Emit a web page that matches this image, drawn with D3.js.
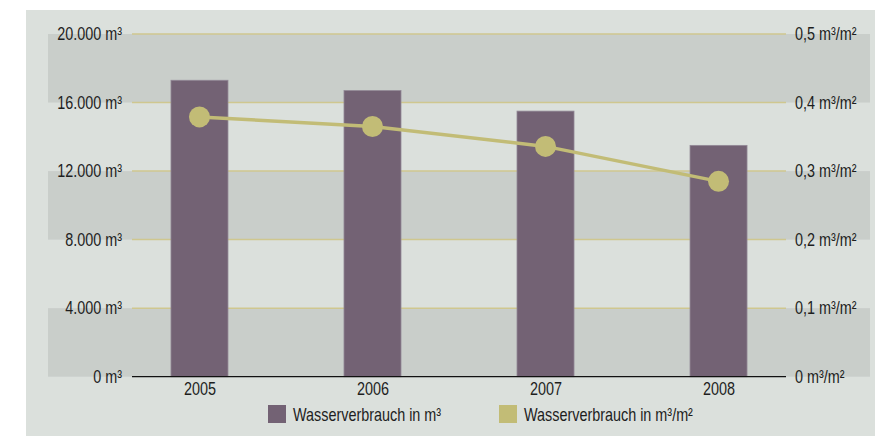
<!DOCTYPE html>
<html><head><meta charset="utf-8">
<script src="https://cdn.jsdelivr.net/npm/d3@7"></script>
<style>
body{margin:0;background:#fff}
text{font-family:"Liberation Sans",Arial,sans-serif;fill:#1e1e1e}
</style>
</head><body><svg id="c" width="875" height="436"></svg>
<script>
const years=["2005","2006","2007","2008"];
const volume=[17300,16700,15500,13500];
const perArea=[0.379,0.365,0.336,0.285];
const leftTicks=[0,4000,8000,12000,16000,20000];
const leftTickLabels=["0 m³","4.000 m³","8.000 m³","12.000 m³","16.000 m³","20.000 m³"];
const rightTicks=[0,0.1,0.2,0.3,0.4,0.5];
const rightTickLabels=["0 m³/m²","0,1 m³/m²","0,2 m³/m²","0,3 m³/m²","0,4 m³/m²","0,5 m³/m²"];
const legendLabels=["Wasserverbrauch in m³","Wasserverbrauch in m³/m²"];

const C={bg:"#dbe0dc",band:"#c9ceca",grid:"#cfc78f",bar:"#736274",line:"#c2bc76"};
const K=0.8; // horizontal condensing of text
const svg=d3.select("#c");
const L=132,R=786,T=34,B=376.7;
const y=d3.scaleLinear().domain([0,20000]).range([B,T]);
const y2=d3.scaleLinear().domain([0,0.5]).range([B,T]);
const x=d3.scalePoint().domain(years).range([L,R]).padding(0.39);
const bw=57;

function condense(sel){
  sel.each(function(){
    const t=d3.select(this);
    const ox=+(t.attr("x")||0);
    t.attr("x",ox/K).attr("transform",`scale(${K},1)`);
  });
}

svg.append("rect").attr("x",26).attr("y",10).attr("width",849).attr("height",426).attr("fill",C.bg);
const bandIdx=[0,2,4];
svg.selectAll(".band").data(bandIdx).join("rect")
  .attr("x",48).attr("width",822)
  .attr("y",i=>y(leftTicks[i+1])).attr("height",i=>y(leftTicks[i])-y(leftTicks[i+1]))
  .attr("fill",C.band);
svg.selectAll(".grid").data(leftTicks.slice(1)).join("line")
  .attr("x1",L).attr("x2",R).attr("y1",d=>y(d)).attr("y2",d=>y(d))
  .attr("stroke",C.grid).attr("stroke-width",1.5);
svg.selectAll(".bar").data(years).join("rect")
  .attr("x",d=>x(d)-bw/2).attr("width",bw)
  .attr("y",(d,i)=>y(volume[i])).attr("height",(d,i)=>B-y(volume[i]))
  .attr("fill",C.bar).attr("stroke","#928896").attr("stroke-width",0.8);
svg.append("line").attr("x1",L).attr("x2",R).attr("y1",B).attr("y2",B).attr("stroke","#111").attr("stroke-width",1.2);
const pts=years.map((d,i)=>[x(d),y2(perArea[i])]);
svg.append("path").attr("d",d3.line()(pts)).attr("fill","none").attr("stroke",C.line).attr("stroke-width",3.5);
svg.selectAll(".pt").data(pts).join("circle").attr("cx",d=>d[0]).attr("cy",d=>d[1]).attr("r",10.5).attr("fill",C.line);

const fs="18px";
const ax1=svg.append("g").attr("transform",`translate(${L},0)`)
  .call(d3.axisLeft(y).tickValues(leftTicks).tickSize(0).tickPadding(10).tickFormat((d,i)=>leftTickLabels[i]));
const ax2=svg.append("g").attr("transform",`translate(${R},0)`)
  .call(d3.axisRight(y2).tickValues(rightTicks).tickSize(0).tickPadding(9).tickFormat((d,i)=>rightTickLabels[i]));
const ax3=svg.append("g").attr("transform",`translate(0,${B})`)
  .call(d3.axisBottom(x).tickSize(0).tickPadding(5.5));
[ax1,ax2,ax3].forEach(a=>{
  a.select(".domain").remove();
  a.attr("font-family",null).attr("font-size",null);
  a.selectAll("text").style("font-size",fs).attr("fill","#1e1e1e").call(condense);
});

const lg=[{x:268,c:C.bar},{x:499,c:C.line}];
lg.forEach((l,i)=>{
  svg.append("rect").attr("x",l.x).attr("y",405).attr("width",18).attr("height",18).attr("fill",l.c);
  svg.append("text").attr("x",l.x+25).attr("y",421).style("font-size",fs).text(legendLabels[i]).call(condense);
});
</script></body></html>
